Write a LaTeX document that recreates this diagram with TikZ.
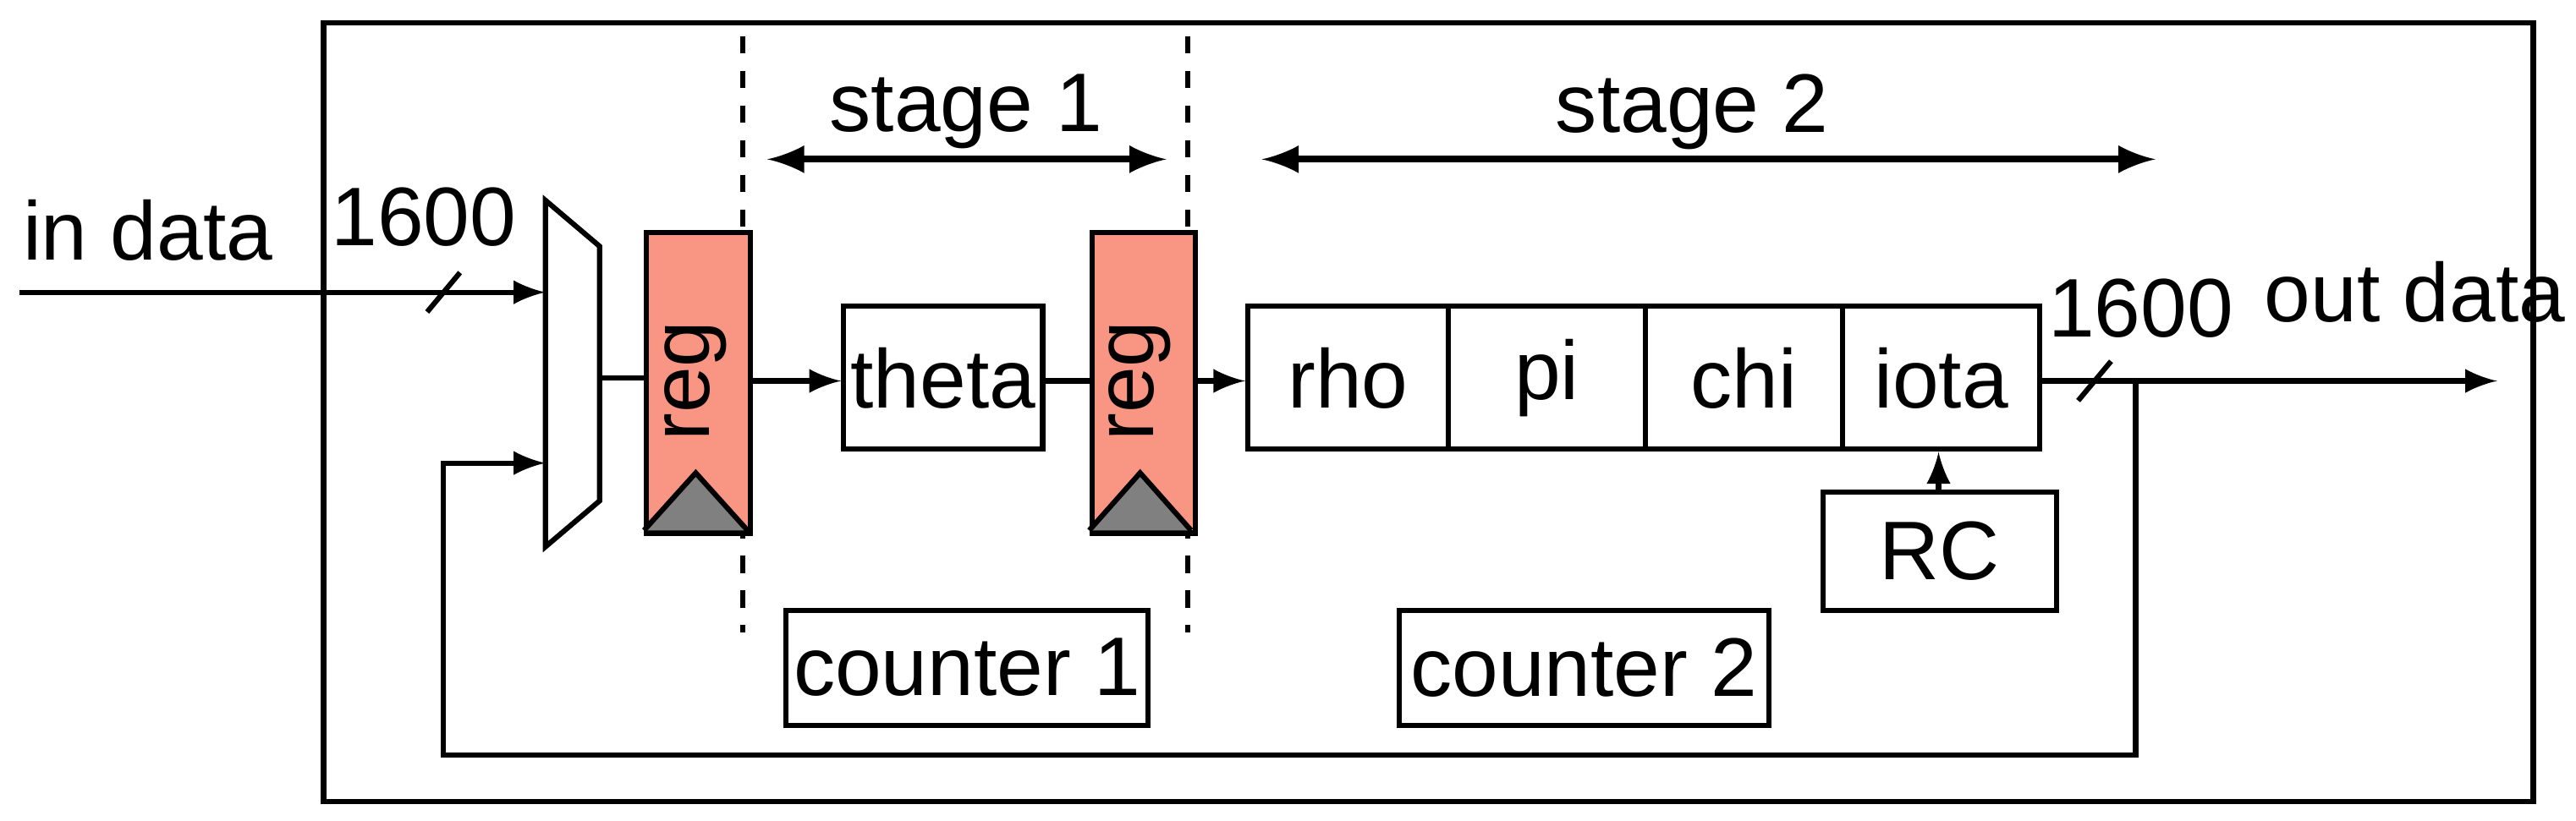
\documentclass[tikz,border=0pt]{standalone}
\usepackage{fontspec}
\setmainfont{Liberation Sans}
\definecolor{regc}{HTML}{F99583}
\begin{document}
\begin{tikzpicture}[x=0.01cm,y=-0.01cm,line width=0.9pt,
  txt/.style={font=\fontsize{14.4pt}{16pt}\selectfont,inner sep=0},
  box/.style={draw,minimum height=0.87cm,font=\fontsize{14.4pt}{16pt}\selectfont,inner sep=0},
  reg/.style={draw,fill=regc,minimum width=0.63cm,minimum height=1.83cm,inner sep=0},
  arr/.style={-latex},
  darr/.style={latex-latex,line width=1.2pt}]
\useasboundingbox (0,0) rectangle (1568,500);
\draw (197,14) rectangle (1542,488);
% dashed
\draw[dashed] (452,22) -- (452,385);
\draw[dashed] (723,22) -- (723,385);
% stage arrows
\coordinate (s1a) at (467,97); \coordinate (s1b) at (710,97);
\draw[darr] (s1a) -- (s1b);
\node[txt] (st1) at (588,68) {stage 1};
\coordinate (s2a) at (768,97); \coordinate (s2b) at (1312,97);
\draw[darr] (s2a) -- (s2b);
\node[txt] (st2) at (1030,68) {stage 2};
% mux
\draw (332,122) -- (365,150) -- (365,305) -- (332,333) -- cycle;
\coordinate (muxin) at (332,178); \coordinate (muxfb) at (332,282);
\coordinate (muxout) at (365,230);
% regs
\node[reg,anchor=north west] (r1) at (392,140) {};
\fill[gray] (392,323) -- (423.5,288) -- (455,323) -- cycle;
\draw (392,323) -- (423.5,288) -- (455,323);
\node[txt,rotate=90] at (423.5,232) {reg};
\node[reg,anchor=north west] (r2) at (663,140) {};
\fill[gray] (663,323) -- (694,288) -- (725,323) -- cycle;
\draw (663,323) -- (694,288) -- (725,323);
\node[txt,rotate=90] at (694,232) {reg};
% boxes
\node[box,minimum width=1.21cm,anchor=north west] (theta) at (512,185) {theta};
\node[box,minimum width=1.22cm,anchor=north west] (rho) at (758,185) {rho};
\node[box,minimum width=1.2cm,anchor=north west] (pi) at (880,185) {pi};
\node[box,minimum width=1.2cm,anchor=north west] (chi) at (1000,185) {chi};
\node[box,minimum width=1.2cm,anchor=north west] (iota) at (1120,185) {iota};
\node[box,minimum width=1.42cm,minimum height=0.72cm,anchor=north west] (rc) at (1108,298) {RC};
\node[box,minimum width=2.2cm,minimum height=0.7cm,anchor=north west] (c1) at (477,370) {counter 1};
\node[box,minimum width=2.25cm,minimum height=0.7cm,anchor=north west] (c2) at (850,370) {counter 2};
% connections
\coordinate (inS) at (12,178);
\draw[arr] (inS) -- (muxin);
\node[txt] (ind) at (90,140) {in data};
\node[txt] (n1) at (258,132) {1600};
\draw (260,190) -- (280,166);
\draw (muxout) -- (r1.west |- muxout);
\draw[arr] (r1.east |- 0,232) -- (theta.west |- 0,232);
\draw (theta.east |- 0,232) -- (r2.west |- 0,232);
\draw[arr] (r2.east |- 0,232) -- (rho.west |- 0,232);
\coordinate (outE) at (1520,232);
\draw[arr] (iota.east |- 0,232) -- (outE);
\draw (1265,244) -- (1285,220);
\node[txt] (n2) at (1303,188) {1600};
\node[txt] (outd) at (1470,178) {out data};
\draw[arr] (rc.north -| 1180,0) -- (iota.south -| 1180,0);
\draw[arr] (1300,232) -- (1300,460) -- (270,460) -- (270,282) -- (muxfb);
\end{tikzpicture}
\end{document}
